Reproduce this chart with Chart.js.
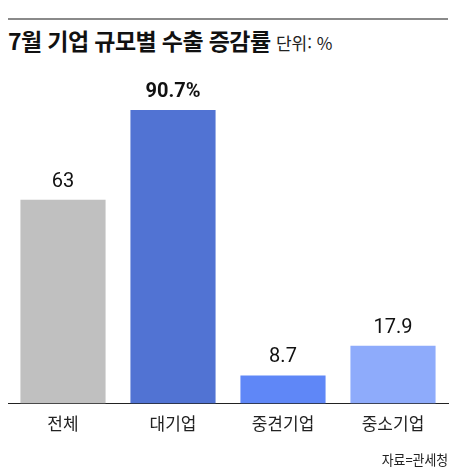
<!DOCTYPE html>
<html lang="ko">
<head>
<meta charset="utf-8">
<script src="https://cdn.jsdelivr.net/npm/chart.js@4.4.1/dist/chart.umd.min.js"></script>
<style>
  html, body { margin: 0; padding: 0; background: #fff; }
  body { width: 459px; height: 473px; position: relative; overflow: hidden;
         font-family: 'Noto Sans CJK KR', 'Noto Sans', sans-serif; color: #111; }
  .topline { position: absolute; left: 8px; top: 18px; width: 440px; height: 2px; background: #8a8a8a; }
  .title { position: absolute; left: 8px; top: 23px; white-space: nowrap; }
  .title b { font-size: 23px; font-weight: 700; letter-spacing: -0.6px; }
  .title span { font-size: 17px; color: #222; margin-left: 1px; }
  .source { position: absolute; right: 11px; top: 449px; font-size: 14px; color: #222;
            transform: scaleX(0.92); transform-origin: right top; }
  #chartExport { position: absolute; left: 0; top: 0; }
</style>
</head>
<body>
<div class="topline"></div>
<div class="title"><b>7월 기업 규모별 수출 증감률</b> <span>단위: %</span></div>
<canvas id="chartExport" width="459" height="473"></canvas>
<div class="source">자료=관세청</div>
<script>
// 7월 기업 규모별 수출 증감률
const categories = ['전체', '대기업', '중견기업', '중소기업']
const values = [63, 90.7, 8.7, 17.9]
const valueLabels = ['63', '90.7%', '8.7', '17.9']
const barColors = ['#c0c0c0', '#5173d3', '#5f87f7', '#8eabfb']

// etiquetas de valor arriba de cada barra
const valueLabelPlugin = {
  id: 'valueLabels',
  afterDatasetsDraw(chart) {
    const ctx = chart.ctx
    const meta = chart.getDatasetMeta(0)
    ctx.save()
    ctx.textAlign = 'center'
    ctx.textBaseline = 'bottom'
    ctx.fillStyle = '#111'
    meta.data.forEach((bar, i) => {
      const bold = i === 1
      ctx.font = (bold ? 'bold ' : '') + '20px "Liberation Sans Narrow", "Roboto", sans-serif'
      ctx.fillText(valueLabels[i], bar.x, bar.y - 8)
    })
    ctx.restore()
  }
}

const graphic = document.getElementById('chartExport')
new Chart(graphic, {
  type: 'bar',
  data: {
    labels: categories,
    datasets: [{
      data: values,
      backgroundColor: barColors,
      borderWidth: 0,
      barPercentage: 0.86,
      categoryPercentage: 0.9
    }]
  },
  options: {
    responsive: false,
    animation: false,
    devicePixelRatio: 1,
    layout: { padding: { top: 80, left: 8, right: 11, bottom: 29 } },
    plugins: { legend: { display: false }, tooltip: { enabled: false } },
    scales: {
      x: {
        grid: { display: false, drawTicks: false },
        border: { display: true, color: '#222', width: 1 },
        ticks: {
          color: '#222',
          padding: 10,
          font: { family: "'Noto Sans CJK KR', sans-serif", size: 17 }
        }
      },
      y: {
        display: false,
        min: 0,
        max: 100
      }
    }
  },
  plugins: [valueLabelPlugin]
})
</script>
</body>
</html>
